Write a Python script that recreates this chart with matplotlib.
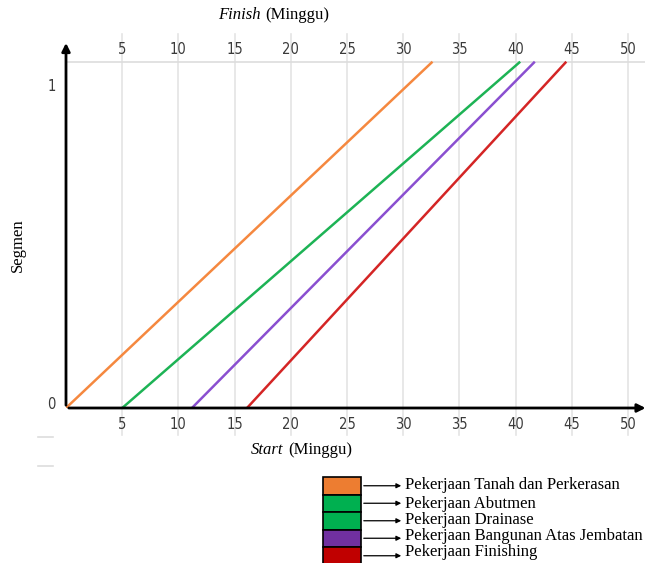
import matplotlib.pyplot as plt
from matplotlib.lines import Line2D
from matplotlib.patches import Rectangle

# data
kegiatan = ['Pekerjaan Tanah dan Perkerasan', 'Pekerjaan Abutmen', 'Pekerjaan Drainase',
            'Pekerjaan Bangunan Atas Jembatan', 'Pekerjaan Finishing']
warna_box = ['#ED7D31', '#00B050', '#00B050', '#7030A0', '#C00000']
start = [0, 5.0, 11.2, 16.1]
finish = [32.6, 40.4, 41.7, 44.5]
warna_garis = ['#F5883F', '#1DB355', '#8A4FD0', '#D42525']
segmen = [0, 1.078]
ticks_x = [5, 10, 15, 20, 25, 30, 35, 40, 45, 50]

W, H = 655, 563
fig = plt.figure(figsize=(W / 100, H / 100), dpi=100)
ax = fig.add_axes([66 / W, (H - 408) / H, (645 - 66) / W, (408 - 45) / H])
ax.set_xlim(0, 51.5)
ax.set_ylim(0, 1.13)

tickfont = ['DejaVu Sans']
serif = 'Liberation Serif'

# vertical grid lines (reach above and below the axes)
for t in ticks_x:
    ax.plot([t, t], [-0.085, 1.165], color='#e4e4e4', lw=1.2, clip_on=False, zorder=0)
ax.axhline(1.078, color='#dddddd', lw=1.2, zorder=0)

for s, f, c in zip(start, finish, warna_garis):
    ax.plot([s, f], segmen, color=c, lw=1.8, solid_capstyle='butt', zorder=3)

for sp in ax.spines.values():
    sp.set_visible(False)
ax.set_xticks([])
ax.set_yticks([])

# axes with arrows
ax.annotate('', xy=(51.8, 0), xytext=(0, 0), xycoords='data',
            arrowprops=dict(arrowstyle='-|>', color='black', lw=2, mutation_scale=12),
            annotation_clip=False)
ax.annotate('', xy=(0, 1.145), xytext=(0, 0), xycoords='data',
            arrowprops=dict(arrowstyle='-|>', color='black', lw=2, mutation_scale=12),
            annotation_clip=False)

for t in ticks_x:
    ax.text(t, -0.05, str(t), ha='center', va='center', fontsize=10.5, family=tickfont,
            fontstretch='condensed', color='#3a3a3a', clip_on=False)
    ax.text(t, 1.115, str(t), ha='center', va='center', fontsize=10.5, family=tickfont,
            fontstretch='condensed', color='#3a3a3a', clip_on=False)
ax.text(-0.9, 1.0, '1', ha='right', va='center', fontsize=10.5, family=tickfont,
        fontstretch='condensed', color='#3a3a3a')
ax.text(-0.9, 0.01, '0', ha='right', va='center', fontsize=10.5, family=tickfont,
        fontstretch='condensed', color='#3a3a3a')

fig.text(18 / W, 1 - 245 / H, 'Segmen', rotation=90, ha='center', va='center',
         fontsize=12, family=serif)
# axis titles
fig.text(261 / W, 1 - 15 / H, 'Finish', ha='right', va='center', fontsize=12, family=serif,
         style='italic')
fig.text(265 / W, 1 - 15 / H, '(Minggu)', ha='left', va='center', fontsize=12, family=serif)
fig.text(283 / W, 1 - 450 / H, 'Start', ha='right', va='center', fontsize=12, family=serif,
         style='italic')
fig.text(288 / W, 1 - 450 / H, '(Minggu)', ha='left', va='center', fontsize=12, family=serif)

# small gray dashes left of the x axis
for yy in [437, 466]:
    fig.add_artist(Line2D([38 / W, 53 / W], [1 - yy / H, 1 - yy / H], color='#dddddd', lw=1.2))

# legend built from boxes + arrows
box_top = 477
box_h = 17.5
text_y = [485, 504, 520, 536, 552]
for i, (lbl, c) in enumerate(zip(kegiatan, warna_box)):
    y0 = box_top + i * box_h
    fig.add_artist(Rectangle((323 / W, 1 - (y0 + box_h) / H), 38 / W, box_h / H,
                             facecolor=c, edgecolor='black', lw=1.2))
    yc = y0 + box_h / 2
    fig.add_artist(plt.Annotation('', xy=(404 / W, 1 - yc / H), xytext=(361 / W, 1 - yc / H),
                                  xycoords='figure fraction',
                                  arrowprops=dict(arrowstyle='-|>', color='black', lw=0.9,
                                                  mutation_scale=7)))
    fig.text(405 / W, 1 - text_y[i] / H, lbl, ha='left', va='center', fontsize=12, family=serif)

fig.savefig('out.png', dpi=100)
